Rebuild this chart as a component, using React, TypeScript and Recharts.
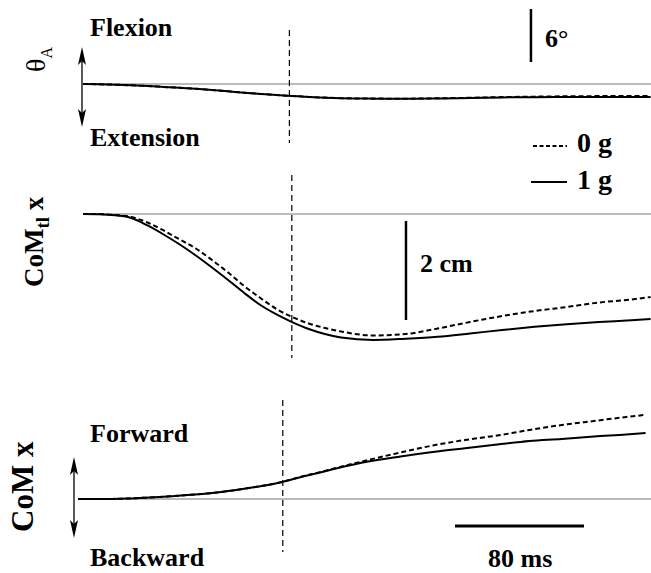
import React from 'react';
import { LineChart, Line, XAxis, YAxis, ReferenceLine } from 'recharts';

// time (ms) from movement onset
const TIME_MS = [0, 10, 20, 30, 40, 50, 60, 70, 80, 90, 100, 110, 120, 130, 140, 150, 160, 180, 200, 220, 240, 260, 280, 300, 320, 340, 352];
// ankle angle θA (deg)
const ANKLE_1G = [0, -0.03, -0.08, -0.15, -0.23, -0.33, -0.43, -0.54, -0.68, -0.83, -0.99, -1.12, -1.25, -1.36, -1.47, -1.55, -1.61, -1.66, -1.68, -1.64, -1.58, -1.52, -1.49, -1.48, -1.47, -1.47, -1.47];
const ANKLE_0G = [0, -0.03, -0.08, -0.15, -0.23, -0.33, -0.43, -0.54, -0.68, -0.83, -0.99, -1.12, -1.25, -1.36, -1.46, -1.54, -1.6, -1.65, -1.66, -1.62, -1.56, -1.48, -1.43, -1.39, -1.37, -1.36, -1.36];
// trunk+leg CoM x (cm)
const COMTL_1G = [0, -0.004, -0.026, -0.081, -0.232, -0.414, -0.616, -0.838, -1.081, -1.333, -1.596, -1.838, -2.03, -2.188, -2.323, -2.424, -2.495, -2.545, -2.52, -2.481, -2.414, -2.343, -2.279, -2.226, -2.182, -2.147, -2.121];
const COMTL_0G = [0, -0.002, -0.02, -0.061, -0.172, -0.333, -0.515, -0.697, -0.929, -1.182, -1.455, -1.697, -1.919, -2.085, -2.212, -2.303, -2.374, -2.455, -2.424, -2.313, -2.182, -2.061, -1.96, -1.879, -1.788, -1.727, -1.677];
// whole-body CoM x (cm)
const COM_1G = [0, 0, 0.002, 0.008, 0.024, 0.038, 0.061, 0.085, 0.111, 0.147, 0.192, 0.242, 0.297, 0.374, 0.461, 0.535, 0.616, 0.758, 0.859, 0.949, 1.026, 1.101, 1.172, 1.212, 1.263, 1.303, 1.333];
const COM_0G = [0, 0, 0.002, 0.008, 0.024, 0.038, 0.061, 0.085, 0.111, 0.147, 0.192, 0.242, 0.297, 0.374, 0.465, 0.541, 0.626, 0.788, 0.939, 1.081, 1.192, 1.283, 1.394, 1.495, 1.576, 1.657, 1.7];

// event markers (ms) per panel
const EVENT_MS = [128, 129.5, 127];
// scale bars
const ANGLE_BAR = { t: 277.8, from: 8.49, to: 2.49 }; // 6°
const CM_BAR = { t: 200.3, from: -0.141, to: -2.141 }; // 2 cm
const TIME_BAR = { y: -0.545, from: 233.8, to: 313.8 }; // 80 ms

const data = TIME_MS.map((t, i) => ({
  t,
  ank1: ANKLE_1G[i],
  ank0: ANKLE_0G[i],
  ctl1: COMTL_1G[i],
  ctl0: COMTL_0G[i],
  com1: COM_1G[i],
  com0: COM_0G[i],
}));

const W = 651;
const H = 573;
const serif = "'Liberation Serif', 'Times New Roman', serif";

const Arrow = ({ x, y1, y2 }: { x: number; y1: number; y2: number }) => (
  <g>
    <line x1={x} y1={y1 + 6} x2={x} y2={y2 - 6} stroke="#000" strokeWidth={1.3} />
    <polygon points={`${x},${y1} ${x - 4},${y1 + 18} ${x},${y1 + 14} ${x + 4},${y1 + 18}`} fill="#000" />
    <polygon points={`${x},${y2} ${x - 4},${y2 - 18} ${x},${y2 - 14} ${x + 4},${y2 - 18}`} fill="#000" />
  </g>
);

export default function App() {
  const bold = { fontFamily: serif, fontWeight: 700, fontSize: 26, fill: '#000' } as const;
  return (
    <div style={{ position: 'absolute', left: 0, top: 0, width: W, height: H, background: '#fff' }}>
      <div style={{ position: 'absolute', left: 0, top: 0 }}>
        <LineChart width={W} height={H} data={data} margin={{ top: 0, right: 0, bottom: 0, left: 0 }}>
          <XAxis xAxisId="t12" dataKey="t" type="number" domain={[-51.47, 352.25]} allowDataOverflow hide />
          <XAxis xAxisId="t3" dataKey="t" type="number" domain={[-48.37, 355.35]} allowDataOverflow hide />
          <YAxis yAxisId="ank" type="number" domain={[-55.38, 9.513]} allowDataOverflow hide />
          <YAxis yAxisId="ctl" type="number" domain={[-7.2525, 4.3232]} allowDataOverflow hide />
          <YAxis yAxisId="com" type="number" domain={[-1.4949, 10.0808]} allowDataOverflow hide />

          {/* baselines */}
          <ReferenceLine xAxisId="t12" yAxisId="ank" segment={[{ x: 0, y: 0 }, { x: 352.25, y: 0 }]} stroke="#777" strokeWidth={1} />
          <ReferenceLine xAxisId="t12" yAxisId="ctl" segment={[{ x: 0, y: 0 }, { x: 352.25, y: 0 }]} stroke="#777" strokeWidth={1} />
          <ReferenceLine xAxisId="t3" yAxisId="com" segment={[{ x: 0, y: 0 }, { x: 355.35, y: 0 }]} stroke="#777" strokeWidth={1} />

          {/* event markers */}
          <ReferenceLine xAxisId="t12" yAxisId="ank" segment={[{ x: EVENT_MS[0], y: 6.11 }, { x: EVENT_MS[0], y: -6.68 }]} stroke="#000" strokeWidth={1.2} strokeDasharray="6 4" />
          <ReferenceLine xAxisId="t12" yAxisId="ctl" segment={[{ x: EVENT_MS[1], y: 0.79 }, { x: EVENT_MS[1], y: -2.91 }]} stroke="#000" strokeWidth={1.2} strokeDasharray="6 4" />
          <ReferenceLine xAxisId="t3" yAxisId="com" segment={[{ x: EVENT_MS[2], y: 2.0 }, { x: EVENT_MS[2], y: -1.07 }]} stroke="#000" strokeWidth={1.2} strokeDasharray="6 4" />

          {/* scale bars */}
          <ReferenceLine xAxisId="t12" yAxisId="ank" segment={[{ x: ANGLE_BAR.t, y: ANGLE_BAR.from }, { x: ANGLE_BAR.t, y: ANGLE_BAR.to }]} stroke="#000" strokeWidth={2.5} />
          <ReferenceLine xAxisId="t12" yAxisId="ctl" segment={[{ x: CM_BAR.t, y: CM_BAR.from }, { x: CM_BAR.t, y: CM_BAR.to }]} stroke="#000" strokeWidth={2.5} />
          <ReferenceLine xAxisId="t3" yAxisId="com" segment={[{ x: TIME_BAR.from, y: TIME_BAR.y }, { x: TIME_BAR.to, y: TIME_BAR.y }]} stroke="#000" strokeWidth={3} />

          <Line xAxisId="t12" yAxisId="ank" dataKey="ank0" type="monotone" stroke="#000" strokeWidth={2} strokeDasharray="5 3" dot={false} activeDot={false} isAnimationActive={false} />
          <Line xAxisId="t12" yAxisId="ank" dataKey="ank1" type="monotone" stroke="#000" strokeWidth={2} dot={false} activeDot={false} isAnimationActive={false} />
          <Line xAxisId="t12" yAxisId="ctl" dataKey="ctl0" type="monotone" stroke="#000" strokeWidth={2} strokeDasharray="5 3" dot={false} activeDot={false} isAnimationActive={false} />
          <Line xAxisId="t12" yAxisId="ctl" dataKey="ctl1" type="monotone" stroke="#000" strokeWidth={2} dot={false} activeDot={false} isAnimationActive={false} />
          <Line xAxisId="t3" yAxisId="com" dataKey="com0" type="monotone" stroke="#000" strokeWidth={2} strokeDasharray="5 3" dot={false} activeDot={false} isAnimationActive={false} />
          <Line xAxisId="t3" yAxisId="com" dataKey="com1" type="monotone" stroke="#000" strokeWidth={2} dot={false} activeDot={false} isAnimationActive={false} />
        </LineChart>
      </div>
      <svg width={W} height={H} style={{ position: 'absolute', left: 0, top: 0, pointerEvents: 'none' }}>
        <text x={90} y={36} {...bold}>Flexion</text>
        <text x={90} y={146} {...bold}>Extension</text>
        <text x={545} y={47} {...bold}>6°</text>
        <line x1={533} y1={146} x2={567} y2={146} stroke="#000" strokeWidth={2} strokeDasharray="4 2.5" />
        <text x={577} y={152} {...bold} fontSize={28}>0 g</text>
        <line x1={531} y1={182} x2={567} y2={182} stroke="#000" strokeWidth={2} />
        <text x={577} y={189} {...bold} fontSize={28}>1 g</text>
        <text x={420} y={272} {...bold}>2 cm</text>
        <text x={90} y={442} {...bold}>Forward</text>
        <text x={90} y={566} {...bold}>Backward</text>
        <text x={488} y={567} {...bold}>80 ms</text>

        <text transform="translate(45,72) rotate(-90)" fontFamily={serif} fontSize={28} fill="#000">
          θ<tspan fontSize={16} dy={7}>A</tspan>
        </text>
        <text transform="translate(43,287) rotate(-90)" {...bold} fontSize={27}>
          CoM<tspan fontSize={19} dy={6}>tl</tspan><tspan dy={-6}> x</tspan>
        </text>
        <text transform="translate(33,532) rotate(-90)" {...bold} fontSize={31}>CoM x</text>

        <Arrow x={82} y1={47} y2={127} />
        <Arrow x={74} y1={457} y2={538} />
      </svg>
    </div>
  );
}
